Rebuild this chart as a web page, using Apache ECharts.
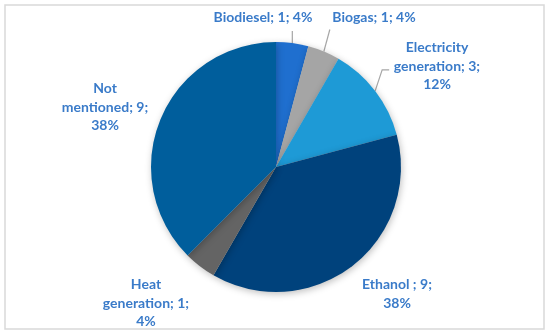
<!DOCTYPE html>
<html>
<head>
<meta charset="utf-8">
<script src="https://cdn.jsdelivr.net/npm/echarts@6/dist/echarts.min.js"></script>
<style>
html,body{margin:0;padding:0;background:#fff;}
#chart{width:550px;height:336px;}
</style>
</head>
<body>
<div id="chart"></div>
<script>
// Data
var categories = ['Biodiesel', 'Biogas', 'Electricity generation', 'Ethanol ', 'Heat generation', 'Not mentioned'];
var values = [1, 1, 3, 9, 1, 9];
var percentLabels = ['4%', '4%', '12%', '38%', '4%', '38%'];

// Styling / layout (not data)
var colors = ['#1F6FCF', '#A5A5A5', '#1E9AD6', '#00427C', '#646464', '#005E9C'];
var labelPos = [[263, 17], [374, 17], [437, 66], [397, 294], [146, 303], [105, 107]];
var showLine = [true, true, true, false, false, false];
// leader-line bends relative to slice anchor
var lineBends = [
  [[0, -12]],
  [[6, -22]],
  [[7, -21], [14, -21]],
  null, null, null
];
function labelText(i) {
  var name = categories[i], v = values[i], p = percentLabels[i];
  switch (i) {
    case 0: case 1: return name + '; ' + v + '; ' + p;
    case 2: return 'Electricity\ngeneration; ' + v + ';\n' + p;
    case 3: return name + '; ' + v + ';\n' + p;
    case 4: return 'Heat\ngeneration; ' + v + ';\n' + p;
    case 5: return 'Not\nmentioned; ' + v + ';\n' + p;
  }
}

var chart = echarts.init(document.getElementById('chart'), null, {renderer: 'canvas'});
var data = categories.map(function (c, i) {
  return {
    name: c,
    value: values[i],
    itemStyle: {color: colors[i]},
    labelLine: {show: showLine[i]}
  };
});

chart.setOption({
  animation: false,
  backgroundColor: '#fff',
  graphic: [{
    type: 'rect',
    shape: {x: 5, y: 5, width: 539, height: 324},
    style: {fill: 'none', stroke: '#D9D9D9', lineWidth: 1.5},
    z: 0
  }],
  series: [{
    type: 'pie',
    center: [276, 167],
    radius: 125,
    startAngle: 90,
    clockwise: true,
    data: data,
    itemStyle: {
      borderWidth: 0,
      shadowBlur: 7,
      shadowColor: 'rgba(0,0,0,0.25)',
      shadowOffsetX: 1,
      shadowOffsetY: 2
    },
    label: {
      show: true,
      position: 'outside',
      formatter: function (p) { return labelText(p.dataIndex); },
      color: '#3A7BC9',
      fontFamily: 'Lato',
      fontWeight: 'bold',
      fontSize: 14,
      lineHeight: 18.5,
      align: 'center'
    },
    labelLine: {
      lineStyle: {color: '#A6A6A6', width: 1.2},
      length: 10,
      length2: 6
    },
    labelLayout: function (params) {
      var i = params.dataIndex;
      var pos = labelPos[i];
      var out = {
        x: pos[0],
        y: pos[1],
        align: 'center',
        verticalAlign: 'middle'
      };
      var pts = params.labelLinePoints;
      if (lineBends[i] && pts && pts.length) {
        var a = pts[0];
        var np = [[a[0], a[1]]];
        lineBends[i].forEach(function (d) { np.push([a[0] + d[0], a[1] + d[1]]); });
        out.labelLinePoints = np;
      }
      return out;
    }
  }]
});
</script>
</body>
</html>
